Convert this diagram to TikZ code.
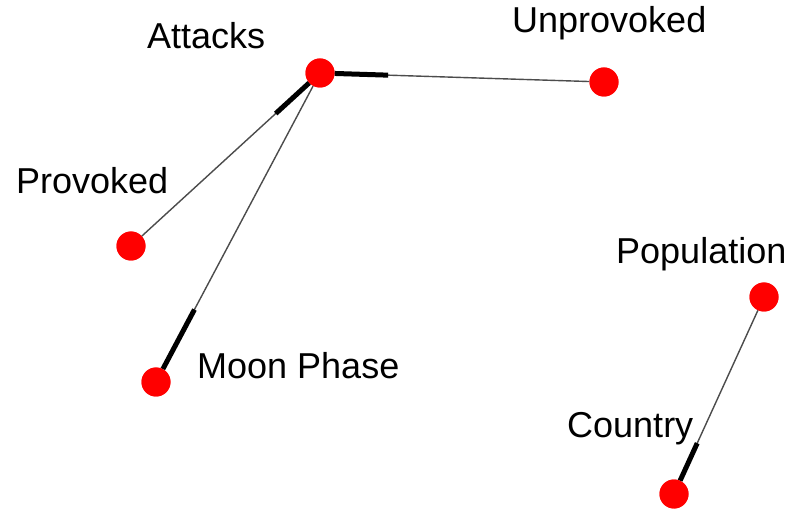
\documentclass[tikz,border=0pt]{standalone}
\usepackage{fontspec}
\setmainfont{Liberation Sans}
\tikzset{
  dot/.style={circle, fill=red, draw=none, inner sep=0pt, minimum size=29pt},
  lbl/.style={anchor=base west, inner sep=0pt, font=\fontsize{36}{40}\selectfont},
  thinedge/.style={draw=black!70, line width=1.4pt},
  thickedge/.style={draw=black, line width=5pt}
}
\begin{document}
\begin{tikzpicture}[x=1pt, y=-1pt]
\useasboundingbox[fill=white] (0,0) rectangle (807,513);
% dots
\node[dot] (att) at (320,73) {};
\node[dot] (unp) at (604,82) {};
\node[dot] (pro) at (131,246) {};
\node[dot] (moon) at (156,382) {};
\node[dot] (pop) at (764,297) {};
\node[dot] (cty) at (674,494) {};
% thin edges
\draw[thinedge] (att) -- (unp);
\draw[thinedge] (att) -- (pro);
\draw[thinedge] (att) -- (moon);
\draw[thinedge] (pop) -- (cty);
% thick segments
\path (att) -- (unp) coordinate[pos=0.21] (au);
\path (att) -- (pro) coordinate[pos=0.2] (ap);
\path (moon) -- (att) coordinate[pos=0.21] (ma);
\path (cty) -- (pop) coordinate[pos=0.22] (cp);
\draw[thickedge] (att) -- (au);
\draw[thickedge] (att) -- (ap);
\draw[thickedge] (moon) -- (ma);
\draw[thickedge] (cty) -- (cp);
% redraw dots on top
\node[dot] at (att) {};
\node[dot] at (unp) {};
\node[dot] at (pro) {};
\node[dot] at (moon) {};
\node[dot] at (pop) {};
\node[dot] at (cty) {};
% labels
\node[lbl] (tatt) at (147,49) {Attacks};
\node[lbl] (tunp) at (512,33) {Unprovoked};
\node[lbl] (tpro) at (16,194) {Provoked};
\node[lbl] (tmoon) at (197,379) {Moon Phase};
\node[lbl] (tpop) at (616,264) {Population};
\node[lbl] (tcty) at (567,438) {Country};
\end{tikzpicture}
\end{document}
